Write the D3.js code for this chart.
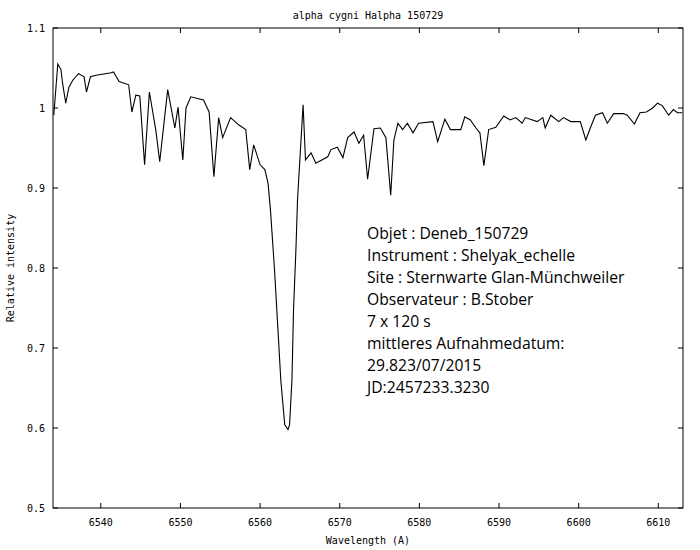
<!DOCTYPE html>
<html><head><meta charset="utf-8">
<script src="https://cdn.jsdelivr.net/npm/d3@7"></script>
<style>body{margin:0;background:#fff}</style>
</head><body>
<script>
const wavelength = [6534.1,6534.6,6535.0,6535.2,6535.6,6536.0,6536.5,6537.2,6537.9,6538.2,6538.7,6539.4,6541.3,6541.6,6542.3,6543.5,6543.9,6544.4,6544.9,6545.5,6546.1,6546.9,6547.4,6548.4,6549.3,6549.7,6550.3,6550.7,6551.3,6552.9,6553.6,6554.2,6554.8,6555.3,6556.3,6557.3,6558.2,6558.7,6559.2,6560.0,6560.6,6561.0,6561.3,6561.8,6562.3,6562.6,6563.1,6563.5,6563.7,6564.0,6564.2,6564.5,6564.7,6565.4,6565.7,6566.4,6567.0,6568.5,6568.9,6569.7,6570.4,6571.0,6571.8,6572.4,6573.0,6573.5,6574.3,6575.1,6575.8,6576.4,6576.8,6577.3,6577.9,6578.5,6579.2,6579.9,6581.7,6582.3,6583.2,6583.9,6585.2,6585.7,6586.4,6587.1,6587.6,6588.1,6588.7,6589.6,6590.6,6591.4,6592.1,6592.9,6593.3,6594.8,6595.5,6595.8,6596.5,6597.5,6598.1,6599.0,6600.2,6600.9,6601.5,6602.1,6603.0,6603.6,6604.4,6605.6,6606.1,6607.0,6607.7,6608.5,6609.3,6609.9,6610.5,6611.3,6611.9,6612.4,6613.0];
const intensity = [0.991,1.055,1.048,1.031,1.006,1.026,1.035,1.043,1.039,1.020,1.039,1.041,1.044,1.045,1.033,1.029,0.995,1.016,1.015,0.929,1.020,0.973,0.933,1.023,0.975,1.001,0.935,1.000,1.014,1.010,0.995,0.914,0.988,0.963,0.988,0.979,0.973,0.923,0.954,0.929,0.923,0.906,0.873,0.800,0.713,0.660,0.604,0.598,0.604,0.660,0.748,0.823,0.885,1.004,0.935,0.944,0.931,0.939,0.948,0.951,0.938,0.963,0.970,0.956,0.966,0.911,0.974,0.975,0.963,0.891,0.960,0.981,0.973,0.981,0.969,0.981,0.983,0.958,0.986,0.973,0.973,0.989,0.985,0.975,0.969,0.928,0.973,0.976,0.990,0.985,0.988,0.981,0.988,0.983,0.988,0.975,0.991,0.983,0.988,0.983,0.983,0.960,0.976,0.991,0.994,0.981,0.993,0.993,0.991,0.980,0.994,0.995,1.000,1.006,1.003,0.991,0.998,0.994,0.994];
const xTicks = [6540,6550,6560,6570,6580,6590,6600,6610];
const yTicks = [0.5,0.6,0.7,0.8,0.9,1,1.1];
const notes = ["Objet : Deneb_150729","Instrument : Shelyak_echelle","Site : Sternwarte Glan-Münchweiler","Observateur : B.Stober","7 x 120 s","mittleres Aufnahmedatum:","29.823/07/2015","JD:2457233.3230"];

const W = 700, H = 550, L = 53, R = 683, T = 28, B = 508;
const svg = d3.select("body").append("svg").attr("width", W).attr("height", H);
const x = d3.scaleLinear().domain([6534.0, 6613.1]).range([L, R]);
const y = d3.scaleLinear().domain([0.5, 1.1]).range([B, T]);
const mono = "DejaVu Sans Mono";

svg.append("rect").attr("x", L).attr("y", T).attr("width", R - L).attr("height", B - T)
  .attr("fill", "none").attr("stroke", "#000").attr("stroke-width", 1);

const tk = svg.append("g").attr("stroke", "#000");
xTicks.forEach(v => {
  tk.append("line").attr("x1", x(v)).attr("x2", x(v)).attr("y1", B).attr("y2", B - 5);
  tk.append("line").attr("x1", x(v)).attr("x2", x(v)).attr("y1", T).attr("y2", T + 5);
  svg.append("text").attr("x", x(v)).attr("y", B + 18).attr("text-anchor", "middle")
    .attr("font-family", mono).attr("font-size", 10).text(v);
});
yTicks.forEach(v => {
  tk.append("line").attr("x1", L).attr("x2", L + 5).attr("y1", y(v)).attr("y2", y(v));
  tk.append("line").attr("x1", R).attr("x2", R - 5).attr("y1", y(v)).attr("y2", y(v));
  svg.append("text").attr("x", L - 8).attr("y", y(v) + 4).attr("text-anchor", "end")
    .attr("font-family", mono).attr("font-size", 10).text(v);
});

svg.append("text").attr("x", (L + R) / 2).attr("y", 19).attr("text-anchor", "middle")
  .attr("font-family", mono).attr("font-size", 10).text("alpha cygni Halpha 150729");
svg.append("text").attr("x", (L + R) / 2).attr("y", 544).attr("text-anchor", "middle")
  .attr("font-family", mono).attr("font-size", 10).text("Wavelength (A)");
svg.append("text").attr("transform", `translate(14,${(T + B) / 2}) rotate(-90)`).attr("text-anchor", "middle")
  .attr("font-family", mono).attr("font-size", 10).text("Relative intensity");

const pts = wavelength.map((w, i) => [w, intensity[i]]);
svg.append("path").datum(pts)
  .attr("d", d3.line().x(d => x(d[0])).y(d => y(d[1])))
  .attr("fill", "none").attr("stroke", "#000").attr("stroke-width", 1.1);

svg.append("g").selectAll("text").data(notes).join("text")
  .attr("x", 367).attr("y", (d, i) => 239 + i * 22)
  .attr("font-family", "Open Sans").attr("font-size", 15.7).text(d => d);
</script>
</body></html>
